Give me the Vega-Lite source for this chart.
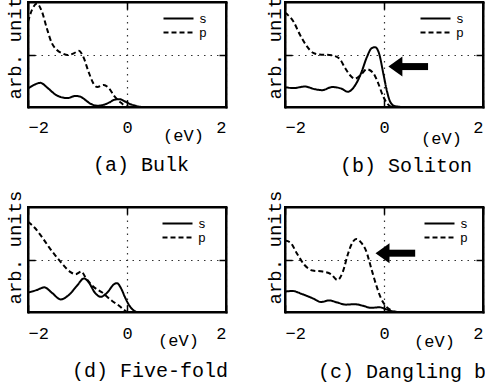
{
"$schema": "https://vega.github.io/schema/vega-lite/v6.json",
"padding": {"left": 3, "top": -17, "right": -36, "bottom": 0},
"columns": 2,
"spacing": {"row": 100, "column": 59},
"bounds": "flush",
"resolve": {"scale": {"strokeDash": "independent"}, "legend": {"strokeDash": "independent"}},
"datasets": {
"dos": [
{"panel":"a","orbital":"p","e":-2.0,"dos":1.62},{"panel":"a","orbital":"p","e":-1.92,"dos":1.85},{"panel":"a","orbital":"p","e":-1.82,"dos":1.97},{"panel":"a","orbital":"p","e":-1.72,"dos":1.82},{"panel":"a","orbital":"p","e":-1.62,"dos":1.5},{"panel":"a","orbital":"p","e":-1.52,"dos":1.22},{"panel":"a","orbital":"p","e":-1.42,"dos":1.09},{"panel":"a","orbital":"p","e":-1.3,"dos":1.02},{"panel":"a","orbital":"p","e":-1.2,"dos":0.99},{"panel":"a","orbital":"p","e":-1.08,"dos":1.02},{"panel":"a","orbital":"p","e":-0.97,"dos":1.07},{"panel":"a","orbital":"p","e":-0.88,"dos":0.95},{"panel":"a","orbital":"p","e":-0.78,"dos":0.68},{"panel":"a","orbital":"p","e":-0.68,"dos":0.45},{"panel":"a","orbital":"p","e":-0.6,"dos":0.38},{"panel":"a","orbital":"p","e":-0.47,"dos":0.42},{"panel":"a","orbital":"p","e":-0.36,"dos":0.35},{"panel":"a","orbital":"p","e":-0.26,"dos":0.21},{"panel":"a","orbital":"p","e":-0.12,"dos":0.08},{"panel":"a","orbital":"p","e":0.0,"dos":0.01},{"panel":"a","orbital":"p","e":0.15,"dos":0.0},{"panel":"a","orbital":"p","e":0.4,"dos":0.0},
{"panel":"a","orbital":"s","e":-2.0,"dos":0.35},{"panel":"a","orbital":"s","e":-1.88,"dos":0.42},{"panel":"a","orbital":"s","e":-1.75,"dos":0.46},{"panel":"a","orbital":"s","e":-1.6,"dos":0.36},{"panel":"a","orbital":"s","e":-1.45,"dos":0.24},{"panel":"a","orbital":"s","e":-1.3,"dos":0.18},{"panel":"a","orbital":"s","e":-1.2,"dos":0.17},{"panel":"a","orbital":"s","e":-1.05,"dos":0.21},{"panel":"a","orbital":"s","e":-0.95,"dos":0.2},{"panel":"a","orbital":"s","e":-0.85,"dos":0.14},{"panel":"a","orbital":"s","e":-0.75,"dos":0.07},{"panel":"a","orbital":"s","e":-0.6,"dos":0.025},{"panel":"a","orbital":"s","e":-0.48,"dos":0.04},{"panel":"a","orbital":"s","e":-0.35,"dos":0.09},{"panel":"a","orbital":"s","e":-0.25,"dos":0.14},{"panel":"a","orbital":"s","e":-0.15,"dos":0.15},{"panel":"a","orbital":"s","e":-0.05,"dos":0.11},{"panel":"a","orbital":"s","e":0.05,"dos":0.06},{"panel":"a","orbital":"s","e":0.15,"dos":0.03},{"panel":"a","orbital":"s","e":0.3,"dos":0.0},{"panel":"a","orbital":"s","e":0.6,"dos":0.0},
{"panel":"b","orbital":"p","e":-2.0,"dos":1.8},{"panel":"b","orbital":"p","e":-1.95,"dos":1.76},{"panel":"b","orbital":"p","e":-1.83,"dos":1.63},{"panel":"b","orbital":"p","e":-1.7,"dos":1.38},{"panel":"b","orbital":"p","e":-1.56,"dos":1.16},{"panel":"b","orbital":"p","e":-1.43,"dos":1.03},{"panel":"b","orbital":"p","e":-1.3,"dos":1.0},{"panel":"b","orbital":"p","e":-1.1,"dos":0.99},{"panel":"b","orbital":"p","e":-0.99,"dos":0.97},{"panel":"b","orbital":"p","e":-0.89,"dos":0.91},{"panel":"b","orbital":"p","e":-0.79,"dos":0.75},{"panel":"b","orbital":"p","e":-0.69,"dos":0.61},{"panel":"b","orbital":"p","e":-0.59,"dos":0.54},{"panel":"b","orbital":"p","e":-0.46,"dos":0.62},{"panel":"b","orbital":"p","e":-0.35,"dos":0.72},{"panel":"b","orbital":"p","e":-0.22,"dos":0.65},{"panel":"b","orbital":"p","e":-0.12,"dos":0.46},{"panel":"b","orbital":"p","e":-0.02,"dos":0.21},{"panel":"b","orbital":"p","e":0.08,"dos":0.05},{"panel":"b","orbital":"p","e":0.18,"dos":0.0},{"panel":"b","orbital":"p","e":0.4,"dos":0.0},
{"panel":"b","orbital":"s","e":-2.0,"dos":0.38},{"panel":"b","orbital":"s","e":-1.83,"dos":0.36},{"panel":"b","orbital":"s","e":-1.6,"dos":0.39},{"panel":"b","orbital":"s","e":-1.4,"dos":0.34},{"panel":"b","orbital":"s","e":-1.25,"dos":0.32},{"panel":"b","orbital":"s","e":-1.05,"dos":0.38},{"panel":"b","orbital":"s","e":-0.86,"dos":0.35},{"panel":"b","orbital":"s","e":-0.73,"dos":0.29},{"panel":"b","orbital":"s","e":-0.6,"dos":0.39},{"panel":"b","orbital":"s","e":-0.46,"dos":0.65},{"panel":"b","orbital":"s","e":-0.35,"dos":0.94},{"panel":"b","orbital":"s","e":-0.25,"dos":1.12},{"panel":"b","orbital":"s","e":-0.18,"dos":1.14},{"panel":"b","orbital":"s","e":-0.1,"dos":1.02},{"panel":"b","orbital":"s","e":-0.01,"dos":0.62},{"panel":"b","orbital":"s","e":0.06,"dos":0.3},{"panel":"b","orbital":"s","e":0.12,"dos":0.11},{"panel":"b","orbital":"s","e":0.21,"dos":0.02},{"panel":"b","orbital":"s","e":0.38,"dos":0.0},{"panel":"b","orbital":"s","e":0.6,"dos":0.0},
{"panel":"d","orbital":"p","e":-2.0,"dos":1.72},{"panel":"d","orbital":"p","e":-1.85,"dos":1.59},{"panel":"d","orbital":"p","e":-1.72,"dos":1.43},{"panel":"d","orbital":"p","e":-1.58,"dos":1.24},{"panel":"d","orbital":"p","e":-1.45,"dos":1.08},{"panel":"d","orbital":"p","e":-1.31,"dos":0.92},{"panel":"d","orbital":"p","e":-1.14,"dos":0.76},{"panel":"d","orbital":"p","e":-1.04,"dos":0.72},{"panel":"d","orbital":"p","e":-0.92,"dos":0.77},{"panel":"d","orbital":"p","e":-0.84,"dos":0.66},{"panel":"d","orbital":"p","e":-0.7,"dos":0.5},{"panel":"d","orbital":"p","e":-0.5,"dos":0.37},{"panel":"d","orbital":"p","e":-0.3,"dos":0.21},{"panel":"d","orbital":"p","e":-0.16,"dos":0.12},{"panel":"d","orbital":"p","e":-0.06,"dos":0.04},{"panel":"d","orbital":"p","e":0.0,"dos":0.0},
{"panel":"d","orbital":"s","e":-2.0,"dos":0.37},{"panel":"d","orbital":"s","e":-1.82,"dos":0.42},{"panel":"d","orbital":"s","e":-1.67,"dos":0.47},{"panel":"d","orbital":"s","e":-1.51,"dos":0.36},{"panel":"d","orbital":"s","e":-1.34,"dos":0.24},{"panel":"d","orbital":"s","e":-1.18,"dos":0.32},{"panel":"d","orbital":"s","e":-1.01,"dos":0.5},{"panel":"d","orbital":"s","e":-0.87,"dos":0.64},{"panel":"d","orbital":"s","e":-0.77,"dos":0.56},{"panel":"d","orbital":"s","e":-0.65,"dos":0.37},{"panel":"d","orbital":"s","e":-0.53,"dos":0.29},{"panel":"d","orbital":"s","e":-0.4,"dos":0.37},{"panel":"d","orbital":"s","e":-0.26,"dos":0.53},{"panel":"d","orbital":"s","e":-0.2,"dos":0.55},{"panel":"d","orbital":"s","e":-0.12,"dos":0.45},{"panel":"d","orbital":"s","e":-0.04,"dos":0.28},{"panel":"d","orbital":"s","e":0.03,"dos":0.15},{"panel":"d","orbital":"s","e":0.11,"dos":0.05},{"panel":"d","orbital":"s","e":0.21,"dos":0.0},{"panel":"d","orbital":"s","e":0.5,"dos":0.0},
{"panel":"c","orbital":"p","e":-2.0,"dos":1.36},{"panel":"c","orbital":"p","e":-1.9,"dos":1.33},{"panel":"c","orbital":"p","e":-1.75,"dos":1.1},{"panel":"c","orbital":"p","e":-1.61,"dos":0.9},{"panel":"c","orbital":"p","e":-1.44,"dos":0.79},{"panel":"c","orbital":"p","e":-1.24,"dos":0.77},{"panel":"c","orbital":"p","e":-1.07,"dos":0.72},{"panel":"c","orbital":"p","e":-0.94,"dos":0.61},{"panel":"c","orbital":"p","e":-0.83,"dos":0.77},{"panel":"c","orbital":"p","e":-0.73,"dos":1.1},{"panel":"c","orbital":"p","e":-0.64,"dos":1.32},{"panel":"c","orbital":"p","e":-0.56,"dos":1.39},{"panel":"c","orbital":"p","e":-0.46,"dos":1.32},{"panel":"c","orbital":"p","e":-0.36,"dos":1.16},{"panel":"c","orbital":"p","e":-0.26,"dos":0.84},{"panel":"c","orbital":"p","e":-0.16,"dos":0.52},{"panel":"c","orbital":"p","e":-0.06,"dos":0.26},{"panel":"c","orbital":"p","e":0.05,"dos":0.1},{"panel":"c","orbital":"p","e":0.15,"dos":0.03},{"panel":"c","orbital":"p","e":0.25,"dos":0.0},{"panel":"c","orbital":"p","e":0.5,"dos":0.0},
{"panel":"c","orbital":"s","e":-2.0,"dos":0.39},{"panel":"c","orbital":"s","e":-1.85,"dos":0.4},{"panel":"c","orbital":"s","e":-1.65,"dos":0.34},{"panel":"c","orbital":"s","e":-1.44,"dos":0.26},{"panel":"c","orbital":"s","e":-1.27,"dos":0.19},{"panel":"c","orbital":"s","e":-1.11,"dos":0.22},{"panel":"c","orbital":"s","e":-0.94,"dos":0.18},{"panel":"c","orbital":"s","e":-0.77,"dos":0.14},{"panel":"c","orbital":"s","e":-0.6,"dos":0.15},{"panel":"c","orbital":"s","e":-0.43,"dos":0.12},{"panel":"c","orbital":"s","e":-0.26,"dos":0.08},{"panel":"c","orbital":"s","e":-0.09,"dos":0.09},{"panel":"c","orbital":"s","e":0.05,"dos":0.05},{"panel":"c","orbital":"s","e":0.18,"dos":0.01},{"panel":"c","orbital":"s","e":0.32,"dos":0.0},{"panel":"c","orbital":"s","e":1.0,"dos":0.0}
],
"arrows": [
{"panel":"b","head":0.23,"tail_start":0.33,"tail_end":0.89,"level":0.77},
{"panel":"c","head":-0.03,"tail_start":0.07,"tail_end":0.63,"level":1.12}
]
},
"concat": [
{
"width": 198, "height": 105,
"title": {"text": "(a) Bulk", "dx": 14, "offset": 12},
"resolve": {"axis": {"x": "independent", "y": "independent"}},
"layer": [
{"data": {"name": "dos"}, "transform": [{"filter": "datum.panel == 'a' && datum.orbital == 's'"}],
 "mark": {"type": "line", "color": "black", "strokeWidth": 2, "interpolate": "monotone", "clip": true},
 "encoding": {
  "x": {"field": "e", "type": "quantitative", "scale": {"domain": [-2, 2], "nice": false, "zero": false}, "axis": {"orient": "bottom", "values": [-2, 0, 2], "grid": true, "title": "(eV)", "titleX": 155, "titleY": 28, "titleBaseline": "middle", "titleAlign": "center", "titleFontSize": 17, "labelPadding": 19}},
  "y": {"field": "dos", "type": "quantitative", "scale": {"domain": [0, 2], "nice": false, "zero": false}, "axis": {"orient": "left", "values": [1], "grid": true, "labels": false, "title": "arb. units", "titleX": -14, "titleY": 40, "titleAngle": 270, "titleBaseline": "middle", "titleAlign": "center", "titleFontSize": 19}},
  "strokeDash": {"field": "orbital", "type": "nominal", "scale": {"domain": ["s", "p"], "range": [[1, 0], [5, 3]]}, "legend": {"title": null, "orient": "none", "legendX": 144, "legendY": 10}}
 }},
{"data": {"name": "dos"}, "transform": [{"filter": "datum.panel == 'a' && datum.orbital == 'p'"}],
 "mark": {"type": "line", "color": "black", "strokeWidth": 2, "interpolate": "monotone", "clip": true},
 "encoding": {
  "x": {"field": "e", "type": "quantitative", "axis": {"orient": "top", "values": [-2, 0, 2], "grid": false, "labels": false, "title": null}},
  "y": {"field": "dos", "type": "quantitative", "axis": {"orient": "right", "values": [1], "grid": false, "labels": false, "title": null}},
  "strokeDash": {"field": "orbital", "type": "nominal"}
 }}
]
},
{
"width": 198, "height": 105,
"title": {"text": "(b) Soliton", "dx": 22, "offset": 10},
"resolve": {"axis": {"x": "independent", "y": "independent"}},
"layer": [
{"data": {"name": "dos"}, "transform": [{"filter": "datum.panel == 'b' && datum.orbital == 's'"}],
 "mark": {"type": "line", "color": "black", "strokeWidth": 2, "interpolate": "monotone", "clip": true},
 "encoding": {
  "x": {"field": "e", "type": "quantitative", "scale": {"domain": [-2, 2], "nice": false, "zero": false}, "axis": {"orient": "bottom", "values": [-2, 0, 2], "grid": true, "title": "(eV)", "titleX": 156, "titleY": 31, "titleBaseline": "middle", "titleAlign": "center", "titleFontSize": 17, "labelPadding": 19}},
  "y": {"field": "dos", "type": "quantitative", "scale": {"domain": [0, 2], "nice": false, "zero": false}, "axis": {"orient": "left", "values": [1], "grid": true, "labels": false, "title": "arb. units", "titleX": -11, "titleY": 40, "titleAngle": 270, "titleBaseline": "middle", "titleAlign": "center", "titleFontSize": 19}},
  "strokeDash": {"field": "orbital", "type": "nominal", "scale": {"domain": ["s", "p"], "range": [[1, 0], [5, 3]]}, "legend": {"title": null, "orient": "none", "legendX": 144, "legendY": 10}}
 }},
{"data": {"name": "dos"}, "transform": [{"filter": "datum.panel == 'b' && datum.orbital == 'p'"}],
 "mark": {"type": "line", "color": "black", "strokeWidth": 2, "interpolate": "monotone", "clip": true},
 "encoding": {
  "x": {"field": "e", "type": "quantitative", "axis": {"orient": "top", "values": [-2, 0, 2], "grid": false, "labels": false, "title": null}},
  "y": {"field": "dos", "type": "quantitative", "axis": {"orient": "right", "values": [1], "grid": false, "labels": false, "title": null}},
  "strokeDash": {"field": "orbital", "type": "nominal"}
 }},
{"data": {"name": "arrows"}, "transform": [{"filter": "datum.panel == 'b'"}],
 "mark": {"type": "rule", "color": "black", "strokeWidth": 7, "strokeCap": "butt"},
 "encoding": {
  "x": {"field": "tail_start", "type": "quantitative", "axis": null},
  "x2": {"field": "tail_end"},
  "y": {"field": "level", "type": "quantitative", "axis": null}
 }},
{"data": {"name": "arrows"}, "transform": [{"filter": "datum.panel == 'b'"}],
 "mark": {"type": "point", "shape": "M-1,0L1,-1.43L1,1.43Z", "filled": true, "color": "black", "opacity": 1, "size": 196},
 "encoding": {
  "x": {"field": "head", "type": "quantitative", "axis": null},
  "y": {"field": "level", "type": "quantitative", "axis": null}
 }}
]
},
{
"width": 198, "height": 105,
"title": {"text": "(d) Five-fold", "dx": 23, "offset": 13},
"resolve": {"axis": {"x": "independent", "y": "independent"}},
"layer": [
{"data": {"name": "dos"}, "transform": [{"filter": "datum.panel == 'd' && datum.orbital == 's'"}],
 "mark": {"type": "line", "color": "black", "strokeWidth": 2, "interpolate": "monotone", "clip": true},
 "encoding": {
  "x": {"field": "e", "type": "quantitative", "scale": {"domain": [-2, 2], "nice": false, "zero": false}, "axis": {"orient": "bottom", "values": [-2, 0, 2], "grid": true, "title": "(eV)", "titleX": 150, "titleY": 28, "titleBaseline": "middle", "titleAlign": "center", "titleFontSize": 17, "labelPadding": 20}},
  "y": {"field": "dos", "type": "quantitative", "scale": {"domain": [0, 2], "nice": false, "zero": false}, "axis": {"orient": "left", "values": [1], "grid": true, "labels": false, "title": "arb. units", "titleX": -14, "titleY": 40, "titleAngle": 270, "titleBaseline": "middle", "titleAlign": "center", "titleFontSize": 19}},
  "strokeDash": {"field": "orbital", "type": "nominal", "scale": {"domain": ["s", "p"], "range": [[1, 0], [5, 3]]}, "legend": {"title": null, "orient": "none", "legendX": 143, "legendY": 10, "rowPadding": -10}}
 }},
{"data": {"name": "dos"}, "transform": [{"filter": "datum.panel == 'd' && datum.orbital == 'p'"}],
 "mark": {"type": "line", "color": "black", "strokeWidth": 2, "interpolate": "monotone", "clip": true},
 "encoding": {
  "x": {"field": "e", "type": "quantitative", "axis": {"orient": "top", "values": [-2, 0, 2], "grid": false, "labels": false, "title": null}},
  "y": {"field": "dos", "type": "quantitative", "axis": {"orient": "right", "values": [1], "grid": false, "labels": false, "title": null}},
  "strokeDash": {"field": "orbital", "type": "nominal"}
 }}
]
},
{
"width": 198, "height": 105,
"title": {"text": "(c) Dangling bond", "dx": 36, "offset": 13},
"resolve": {"axis": {"x": "independent", "y": "independent"}},
"layer": [
{"data": {"name": "dos"}, "transform": [{"filter": "datum.panel == 'c' && datum.orbital == 's'"}],
 "mark": {"type": "line", "color": "black", "strokeWidth": 2, "interpolate": "monotone", "clip": true},
 "encoding": {
  "x": {"field": "e", "type": "quantitative", "scale": {"domain": [-2, 2], "nice": false, "zero": false}, "axis": {"orient": "bottom", "values": [-2, 0, 2], "grid": true, "title": "(eV)", "titleX": 149, "titleY": 29, "titleBaseline": "middle", "titleAlign": "center", "titleFontSize": 17, "labelPadding": 20}},
  "y": {"field": "dos", "type": "quantitative", "scale": {"domain": [0, 2], "nice": false, "zero": false}, "axis": {"orient": "left", "values": [1], "grid": true, "labels": false, "title": "arb. units", "titleX": -11, "titleY": 40, "titleAngle": 270, "titleBaseline": "middle", "titleAlign": "center", "titleFontSize": 19}},
  "strokeDash": {"field": "orbital", "type": "nominal", "scale": {"domain": ["s", "p"], "range": [[1, 0], [5, 3]]}, "legend": {"title": null, "orient": "none", "legendX": 148, "legendY": 10, "rowPadding": -10}}
 }},
{"data": {"name": "dos"}, "transform": [{"filter": "datum.panel == 'c' && datum.orbital == 'p'"}],
 "mark": {"type": "line", "color": "black", "strokeWidth": 2, "interpolate": "monotone", "clip": true},
 "encoding": {
  "x": {"field": "e", "type": "quantitative", "axis": {"orient": "top", "values": [-2, 0, 2], "grid": false, "labels": false, "title": null}},
  "y": {"field": "dos", "type": "quantitative", "axis": {"orient": "right", "values": [1], "grid": false, "labels": false, "title": null}},
  "strokeDash": {"field": "orbital", "type": "nominal"}
 }},
{"data": {"name": "arrows"}, "transform": [{"filter": "datum.panel == 'c'"}],
 "mark": {"type": "rule", "color": "black", "strokeWidth": 7, "strokeCap": "butt"},
 "encoding": {
  "x": {"field": "tail_start", "type": "quantitative", "axis": null},
  "x2": {"field": "tail_end"},
  "y": {"field": "level", "type": "quantitative", "axis": null}
 }},
{"data": {"name": "arrows"}, "transform": [{"filter": "datum.panel == 'c'"}],
 "mark": {"type": "point", "shape": "M-1,0L1,-1.43L1,1.43Z", "filled": true, "color": "black", "opacity": 1, "size": 196},
 "encoding": {
  "x": {"field": "head", "type": "quantitative", "axis": null},
  "y": {"field": "level", "type": "quantitative", "axis": null}
 }}
]
}
],
"config": {
 "font": "Liberation Mono",
 "background": "white",
 "view": {"stroke": "black", "strokeWidth": 2},
 "axis": {"domain": true, "domainColor": "black", "domainWidth": 2, "domainCap": "square", "labelFont": "Liberation Mono", "labelFontSize": 17, "labelColor": "black", "titleFont": "Liberation Mono", "titleFontWeight": "normal", "titleColor": "black", "tickColor": "black", "tickWidth": 1.5, "tickSize": -7, "gridColor": "#333", "gridDash": [1.5, 5], "gridWidth": 1.2, "gridOpacity": 1},
 "title": {"font": "Liberation Mono", "fontSize": 20, "fontWeight": "normal", "color": "black", "orient": "bottom", "anchor": "middle", "frame": "group"},
 "legend": {"labelFont": "Liberation Mono", "labelFontSize": 13, "labelColor": "black", "symbolType": "M-3,0L3,0", "symbolSize": 100, "symbolStrokeWidth": 2, "symbolStrokeColor": "black", "rowPadding": -7, "labelOffset": 14, "padding": 0}
}
}
